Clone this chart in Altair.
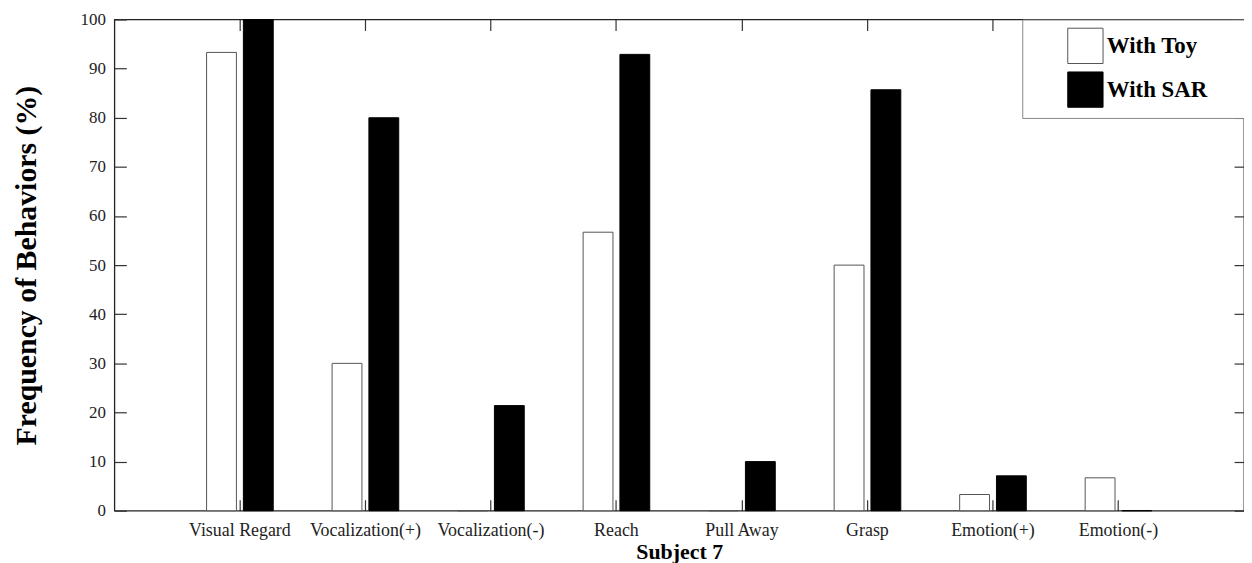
import altair as alt
import pandas as pd

categories = ["Visual Regard", "Vocalization(+)", "Vocalization(-)", "Reach",
              "Pull Away", "Grasp", "Emotion(+)", "Emotion(-)"]
series = ["With Toy", "With SAR"]
with_toy = [93.3, 30.0, 0.0, 56.7, 0.0, 50.0, 3.3, 6.7]
with_sar = [100.0, 80.0, 21.4, 92.9, 10.0, 85.7, 7.1, 0.0]
y_ticks = [0, 10, 20, 30, 40, 50, 60, 70, 80, 90, 100]

rows = []
for c, t, s in zip(categories, with_toy, with_sar):
    rows.append({"Behavior": c, "Series": series[0], "Value": t})
    rows.append({"Behavior": c, "Series": series[1], "Value": s})
df = pd.DataFrame(rows)

FONT = "Liberation Serif"
PAD = "\u00a0" * 5 + "\u200b"

x_scale = alt.Scale(domain=categories, paddingInner=0, paddingOuter=0.5)
xo_scale = alt.Scale(domain=series, paddingInner=0.189, paddingOuter=0.8)
y_scale = alt.Scale(domain=[0, 100], nice=False)

legend = alt.Legend(
    title=None, orient="top-right", offset=0, padding=8,
    strokeColor="#888", fillColor="white",
    symbolType="square", symbolSize=1260, symbolStrokeWidth=1, symbolOffset=37,
    labelOffset=3, labelFont=FONT, labelFontSize=23, labelFontWeight="bold",
    labelColor="black", rowPadding=3, labelLimit=400,
    labelExpr="datum.label + '" + PAD + "'",
)

bars = alt.Chart(df).mark_bar(strokeWidth=1).encode(
    x=alt.X("Behavior:N", sort=categories, scale=x_scale,
            axis=alt.Axis(orient="bottom", offset=-11, tickSize=11, domain=False,
                          labelPadding=11, labelAngle=0, labelFont=FONT, labelFontSize=18,
                          labelColor="#222", tickColor="#333", tickWidth=1.2, grid=False,
                          title="Subject 7", titleFont=FONT, titleFontSize=22,
                          titleFontWeight="bold", titleColor="black", titlePadding=2)),
    xOffset=alt.XOffset("Series:N", sort=series, scale=xo_scale),
    y=alt.Y("Value:Q", scale=y_scale,
            axis=alt.Axis(orient="left", offset=-12, tickSize=12, domain=False,
                          values=y_ticks, labelPadding=9, labelFont=FONT, labelFontSize=17,
                          labelColor="#222", tickColor="#333", tickWidth=1.2, grid=False,
                          title="Frequency of Behaviors (%)", titleFont=FONT,
                          titleFontSize=30, titleFontWeight="bold", titleColor="black",
                          titlePadding=39)),
    fill=alt.Fill("Series:N", sort=series,
                  scale=alt.Scale(domain=series, range=["white", "black"]), legend=legend),
    stroke=alt.Stroke("Series:N", sort=series,
                      scale=alt.Scale(domain=series, range=["#555", "#000"]), legend=legend),
)

mirror = alt.Chart(df).mark_bar(opacity=0).encode(
    x=alt.X("Behavior:N", sort=categories, scale=x_scale,
            axis=alt.Axis(orient="top", offset=-11, tickSize=11, domain=False,
                          labels=False, title=None, grid=False,
                          tickColor="#333", tickWidth=1.2)),
    xOffset=alt.XOffset("Series:N", sort=series, scale=xo_scale),
    y=alt.Y("Value:Q", scale=y_scale,
            axis=alt.Axis(orient="right", offset=-10, tickSize=10, domain=False,
                          values=y_ticks, labels=False, title=None, grid=False,
                          tickColor="#333", tickWidth=1.2)),
)

chart = alt.layer(bars, mirror).resolve_axis(
    x="independent", y="independent"
).properties(
    width=1136, height=494,
    autosize=alt.AutoSizeParams(type="none"),
    padding={"left": 107, "top": 10, "right": 0, "bottom": 51},
).configure_view(
    stroke="#222", strokeWidth=1.3
)

chart.save("out.html", embed_options={"renderer": "svg", "actions": False})
